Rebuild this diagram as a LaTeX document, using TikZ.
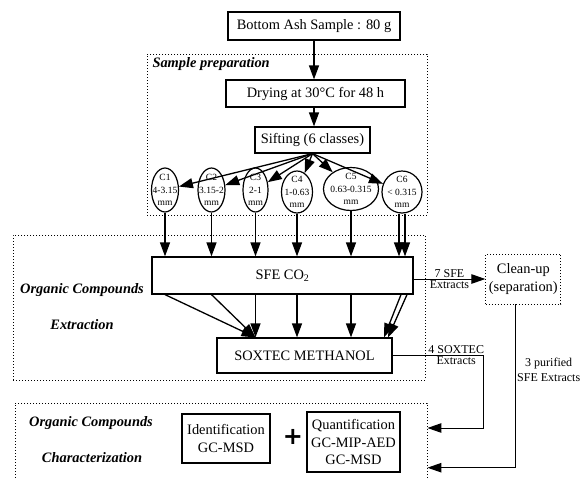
\documentclass[tikz,border=0pt]{standalone}
\usepackage{fontspec}
\setmainfont{Liberation Serif}
\newfontfamily\plusfont{DejaVu Sans}
\usepackage{tikz}
\usetikzlibrary{arrows.meta,shapes.geometric,calc}

\newcommand{\bigtxt}{\fontsize{14.4}{17.5}\selectfont}
\newcommand{\midtxt}{\fontsize{12}{15}\selectfont}
\newcommand{\clstxt}{\fontsize{9.5}{12.6}\selectfont}

\begin{document}
\begin{tikzpicture}[x=1pt, y=-1pt,
        box/.style={draw, line width=1.2pt, inner sep=0pt, align=center, font=\bigtxt},
        zone/.style={draw, line width=0.9pt, dash pattern=on 0.9pt off 2.1pt, inner sep=0pt},
        cls/.style={draw, ellipse, line width=1.2pt, inner sep=-5pt, align=center, font=\clstxt},
        flow/.style={-{Triangle[length=14pt, width=10pt]}, line width=1.3pt},
        link/.style={-{Triangle[length=14pt, width=9.5pt]}, line width=1pt},
        tag/.style={font=\bigtxt\bfseries\itshape},
        note/.style={font=\midtxt, inner sep=1pt, align=center}
    ]
        \useasboundingbox (0,0) rectangle (581,477);

        \node[zone, minimum width=280pt, minimum height=161pt] (prep) at (287,134.5) {};
        \node[zone, minimum width=412pt, minimum height=145pt] (extr) at (219,307.5) {};
        \node[zone, minimum width=412pt, minimum height=92pt] (chrz) at (221,449) {};

        \node[tag, anchor=west] (preptag) at (149,64) {Sample preparation};
        \node[tag] (extrtag) at (82,290) {Organic Compounds};
        \node[tag] (extrsub) at (82,325) {Extraction};
        \node[tag] (chrztag) at (91,423) {Organic Compounds};
        \node[tag] (chrzsub) at (92,458) {Characterization};

        \node[box, minimum width=172pt, minimum height=28pt] (ash) at (314,26) {Bottom Ash Sample : 80 g};
        \node[box, minimum width=179pt, minimum height=27pt] (dry) at (315.5,93.5) {Drying at 30°C for 48 h};
        \node[box, minimum width=115pt, minimum height=26pt] (sift) at (312.5,140) {Sifting (6 classes)};

        \node[cls, minimum width=27pt, minimum height=44pt] (c1) at (165,190) {C1\\4-3.15\\mm};
        \node[cls, minimum width=27pt, minimum height=44pt] (c2) at (211.5,190) {C2\\3.15-2\\mm};
        \node[cls, minimum width=25pt, minimum height=44pt] (c3) at (255.5,190) {C3\\2-1\\mm};
        \node[cls, minimum width=31pt, minimum height=42pt] (c4) at (297,192) {C4\\1-0.63\\mm};
        \node[cls, minimum width=55pt, minimum height=43pt] (c5) at (351,189) {C5\\0.63-0.315\\mm};
        \node[cls, minimum width=40pt, minimum height=42pt] (c6) at (402,192) {C6\\< 0.315\\mm};

        \node[box, minimum width=261pt, minimum height=37pt] (sfe) at (282.5,275.5) {SFE CO\textsubscript{2}};
        \node[box, minimum width=175pt, minimum height=35pt] (sox) at (304.5,355.5) {SOXTEC METHANOL};
        \node[zone, font=\bigtxt, align=center, minimum width=75pt, minimum height=50pt] (clean) at (523.3,279) {Clean-up\\(separation)};

        \node[box, minimum width=88pt, minimum height=49pt] (ident) at (226,438.5) {Identification\\GC-MSD};
        \node[font=\plusfont\bfseries\fontsize{24}{24}\selectfont] (plus) at (293,437) {+};
        \node[box, minimum width=93pt, minimum height=60pt] (quant) at (353.5,442) {Quantification\\GC-MIP-AED\\GC-MSD};

        \coordinate (soxin) at (chrz.east |- 0,428);
        \coordinate (cleanin) at (chrz.east |- 0,467.7);

        \draw[flow] (ash.south) -- (ash.south |- dry.north);
        \draw[flow] (dry.south -| ash.south) -- (sift.north -| ash.south);
        \foreach \c in {c1,c2,c3,c4,c5,c6}
            \draw[flow] (sift.south) -- (\c);
        \foreach \c in {c1,c2,c3,c4,c5}
            \draw[flow] (\c.south) -- (\c.south |- sfe.north);
        \draw[flow] ($(c6.south)+(-3,0)$) -- ($(c6.south |- sfe.north)+(-3,0)$);
        \draw[flow] ($(c6.south)+(3,0)$) -- ($(c6.south |- sfe.north)+(3,0)$);

        \draw[flow] (sfe.south -| c1) -- (sox.north -| c3);
        \draw[flow] (sfe.south -| c2) -- (sox.north -| c3);
        \foreach \c in {c3,c4,c5}
            \draw[flow] (sfe.south -| \c) -- (sox.north -| \c);
        \draw[flow] ($(sfe.south -| c6)+(-1,0)$) -- ($(sox.north -| c6)+(-18,0)$);
        \draw[flow] ($(sfe.south -| c6)+(5,0)$) -- ($(sox.north -| c6)+(-14,0)$);

        \draw[link] (clean.west -| sfe.east) -- node[note, above] {7 SFE} node[note, below] {Extracts} (clean.west);
        \draw[link] (sox.east) -| node[note, above, pos=0.35] {4 SOXTEC} node[note, below, pos=0.35] {Extracts} ($(soxin)+(56,0)$) -- (soxin);
        \draw[link] ($(clean.south)+(-7.6,0)$) |- node[note, anchor=west, pos=0.2] {3 purified\\SFE Extracts} (cleanin);
    \end{tikzpicture}
\end{document}
